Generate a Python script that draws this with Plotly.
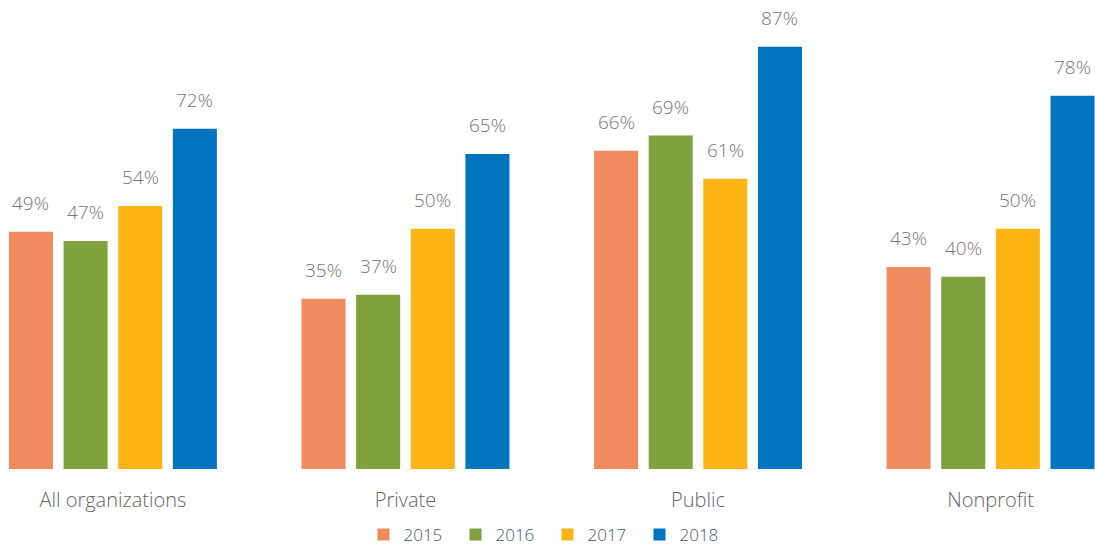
import plotly.graph_objects as go

categories = ["All organizations", "Private", "Public", "Nonprofit"]
years = ["2015", "2016", "2017", "2018"]
# bar heights as drawn in the picture
heights_2015 = [48.9, 35.1, 65.6, 41.6]
heights_2016 = [47.0, 35.9, 68.7, 39.6]
heights_2017 = [54.2, 49.5, 59.8, 49.5]
heights_2018 = [70.1, 64.9, 87.0, 76.9]
# printed value labels
labels_2015 = ["49%", "35%", "66%", "43%"]
labels_2016 = ["47%", "37%", "69%", "40%"]
labels_2017 = ["54%", "50%", "61%", "50%"]
labels_2018 = ["72%", "65%", "87%", "78%"]
colors = ["#EF8B5E", "#7FA23F", "#FDB515", "#0075BE"]

heights = [heights_2015, heights_2016, heights_2017, heights_2018]
labels = [labels_2015, labels_2016, labels_2017, labels_2018]

FONT = "Open Sans"
WEIGHT = 300
fig = go.Figure()
for yr, vals, col in zip(years, heights, colors):
    fig.add_trace(go.Bar(name=yr, x=categories, y=vals, marker_color=col,
                         marker_line_width=0, hoverinfo="skip"))

bargap = 0.253
pitch = (1 - bargap) / 4
annotations = []
for j, (vals, labs) in enumerate(zip(heights, labels)):
    for i, (v, t) in enumerate(zip(vals, labs)):
        annotations.append(dict(
            x=i + (j - 1.5) * pitch, y=v, xref="x", yref="y",
            text=t, showarrow=False, yanchor="bottom", yshift=14,
            font=dict(family=FONT, size=19, color="#777777", weight=WEIGHT)))

fig.update_layout(
    width=1095, height=550,
    barmode="group", bargap=bargap, bargroupgap=0.194,
    plot_bgcolor="white", paper_bgcolor="white",
    margin=dict(l=0, r=0, t=32, b=81, autoexpand=False),
    font=dict(family=FONT, weight=WEIGHT),
    xaxis=dict(range=[-0.386, 3.357], showgrid=False, showline=False,
               zeroline=False, ticks="", ticklabelstandoff=17,
               tickfont=dict(family=FONT, size=20, color="#666666", weight=WEIGHT)),
    yaxis=dict(range=[0, 90.05], visible=False),
    legend=dict(orientation="h", x=0.5, xanchor="center", y=-0.11,
                yanchor="top", entrywidth=47, entrywidthmode="pixels",
                font=dict(family=FONT, size=17, color="#4a5568", weight=WEIGHT),
                traceorder="normal"),
    annotations=annotations,
)

fig.write_html("out.html")
